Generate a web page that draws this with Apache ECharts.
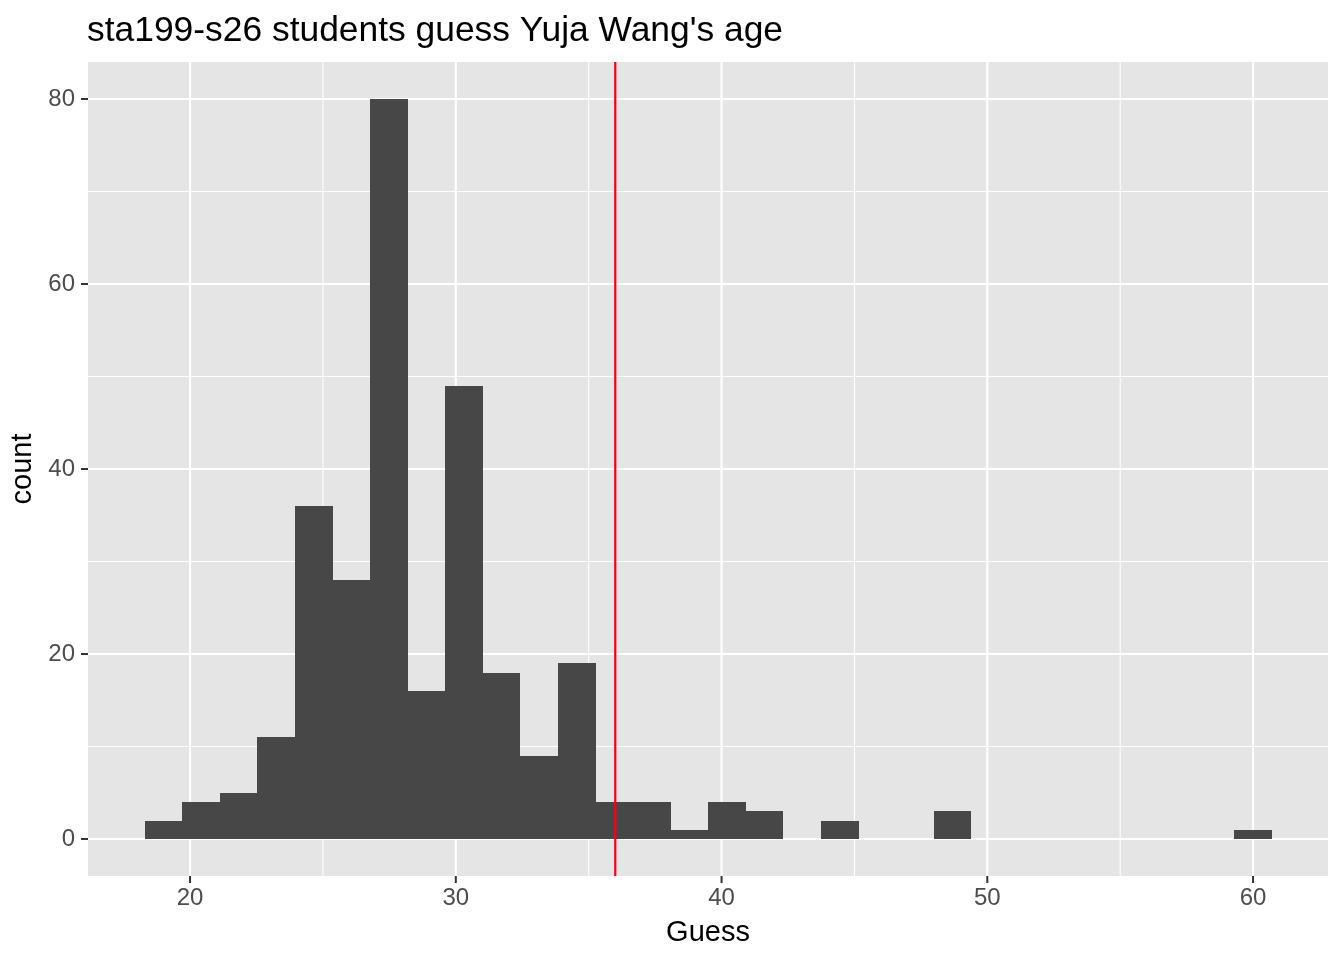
<!DOCTYPE html>
<html>
<head>
<meta charset="utf-8">
<script src="https://cdn.jsdelivr.net/npm/echarts@6/dist/echarts.min.js"></script>
<style>
html,body{margin:0;padding:0;background:#fff;}
#chart{width:1344px;height:960px;}
</style>
</head>
<body>
<div id="chart"></div>
<script>
// Histogram data (30 bins, centers and counts)
const binCenters = [19.00, 20.41, 21.83, 23.24, 24.66, 26.07, 27.48, 28.90, 30.31, 31.72,
                    33.14, 34.55, 35.97, 37.38, 38.79, 40.21, 41.62, 43.03, 44.45, 45.86,
                    47.28, 48.69, 50.10, 51.52, 52.93, 54.34, 55.76, 57.17, 58.59, 60.00];
const counts = [2, 4, 5, 11, 36, 28, 80, 16, 49, 18,
                9, 19, 4, 4, 1, 4, 3, 0, 2, 0,
                0, 3, 0, 0, 0, 0, 0, 0, 0, 1];
const binWidth = 1.4138;
const actualAge = [36];
const xTicks = [20, 30, 40, 50, 60];
const xMinor = [25, 35, 45, 55];
const yTicks = [0, 20, 40, 60, 80];
const yMinor = [10, 30, 50, 70];
const xRange = [16.16, 62.82];
const yRange = [-4, 84];

const chart = echarts.init(document.getElementById('chart'), null, {renderer: 'canvas'});
const font = 'Liberation Sans, Arial, Helvetica, sans-serif';

const barData = binCenters.map((c, i) => [c, counts[i]]);
const TICK_LEN = 7;

const option = {
  animation: false,
  backgroundColor: '#ffffff',
  title: {
    text: "sta199-s26 students guess Yuja Wang's age",
    left: 82,
    top: 9,
    textStyle: {fontFamily: font, fontSize: 35.4, fontWeight: 'normal', color: '#000000'}
  },
  grid: {
    left: 88, right: 16, top: 62, bottom: 84,
    show: true, backgroundColor: '#E5E5E5', borderWidth: 0
  },
  xAxis: {
    type: 'value',
    position: 'bottom',
    min: xRange[0], max: xRange[1],
    name: 'Guess',
    nameLocation: 'middle',
    nameGap: 42,
    nameTextStyle: {fontFamily: font, fontSize: 29, color: '#000000'},
    axisLine: {show: false, onZero: false},
    axisTick: {show: false},
    axisLabel: {customValues: xTicks, margin: 10, fontFamily: font, fontSize: 24, color: '#4D4D4D'},
    splitLine: {show: false}
  },
  yAxis: {
    type: 'value',
    min: yRange[0], max: yRange[1],
    name: 'count',
    nameLocation: 'middle',
    nameGap: 40,
    nameRotate: 90,
    nameTextStyle: {fontFamily: font, fontSize: 29, color: '#000000'},
    axisLine: {show: false, onZero: false},
    axisTick: {show: false},
    axisLabel: {customValues: yTicks, margin: 13, fontFamily: font, fontSize: 24, color: '#4D4D4D'},
    splitLine: {show: false}
  },
  series: [
    {
      // panel grid lines and axis tick marks
      type: 'custom',
      silent: true,
      clip: false,
      z: 1,
      data: [[0]],
      renderItem: function (params, api) {
        const cs = params.coordSys;
        const children = [];
        const bottom = cs.y + cs.height;
        const addV = (v, w) => {
          const p = api.coord([v, 0]);
          children.push({type: 'line', shape: {x1: p[0], y1: cs.y, x2: p[0], y2: bottom},
            style: {stroke: '#FFFFFF', lineWidth: w}});
        };
        const addH = (v, w) => {
          const p = api.coord([xRange[0], v]);
          children.push({type: 'line', shape: {x1: cs.x, y1: p[1], x2: cs.x + cs.width, y2: p[1]},
            style: {stroke: '#FFFFFF', lineWidth: w}});
        };
        xMinor.forEach(v => addV(v, 1.1));
        yMinor.forEach(v => addH(v, 1.1));
        xTicks.forEach(v => addV(v, 2.1));
        yTicks.forEach(v => addH(v, 2.1));
        xTicks.forEach(v => {
          const p = api.coord([v, 0]);
          children.push({type: 'line', shape: {x1: p[0], y1: bottom, x2: p[0], y2: bottom + TICK_LEN},
            style: {stroke: '#333333', lineWidth: 2}});
        });
        yTicks.forEach(v => {
          const p = api.coord([xRange[0], v]);
          children.push({type: 'line', shape: {x1: cs.x - TICK_LEN, y1: p[1], x2: cs.x, y2: p[1]},
            style: {stroke: '#333333', lineWidth: 2}});
        });
        return {type: 'group', children: children};
      }
    },
    {
      // histogram bars
      type: 'custom',
      silent: true,
      z: 2,
      data: barData,
      renderItem: function (params, api) {
        const c = api.value(0), n = api.value(1);
        if (!n) return null;
        const tl = api.coord([c - binWidth / 2, n]);
        const br = api.coord([c + binWidth / 2, 0]);
        const x0 = Math.round(tl[0]), x1 = Math.round(br[0]);
        const y0 = Math.round(tl[1]), y1 = Math.round(br[1]);
        return {type: 'rect', shape: {x: x0, y: y0, width: x1 - x0, height: y1 - y0},
          style: {fill: '#474747'}};
      }
    },
    {
      // vertical reference line
      type: 'custom',
      silent: true,
      z: 3,
      data: actualAge.map(v => [v]),
      renderItem: function (params, api) {
        const cs = params.coordSys;
        const p = api.coord([api.value(0), 0]);
        return {type: 'line', shape: {x1: p[0], y1: cs.y, x2: p[0], y2: cs.y + cs.height},
          style: {stroke: '#FF0000', lineWidth: 2.2}};
      }
    }
  ]
};
chart.setOption(option);
</script>
</body>
</html>
